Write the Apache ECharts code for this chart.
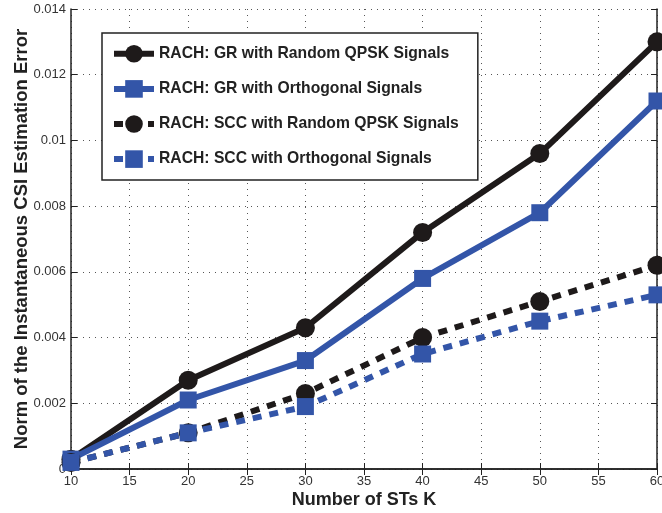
<!DOCTYPE html>
<html>
<head>
<meta charset="utf-8">
<script src="https://cdn.jsdelivr.net/npm/echarts@6/dist/echarts.min.js"></script>
<style>
  html, body { margin: 0; padding: 0; background: #fff; }
  #chart { width: 662px; height: 513px; }
</style>
</head>
<body>
<div id="chart"></div>
<script>
// 横轴：ST 数量 K
const stCounts = [10, 20, 30, 40, 50, 60];

// 各曲线数值
const grQpsk = [0.0003, 0.0027, 0.0043, 0.0072, 0.0096, 0.0130];
const grOrth = [0.0003, 0.0021, 0.0033, 0.0058, 0.0078, 0.0112];
const sccQpsk = [0.0002, 0.0011, 0.0023, 0.0040, 0.0051, 0.0062];
const sccOrth = [0.0002, 0.0011, 0.0019, 0.0035, 0.0045, 0.0053];

const seriesNames = [
  'RACH: GR with Random QPSK Signals',
  'RACH: GR with Orthogonal Signals',
  'RACH: SCC with Random QPSK Signals',
  'RACH: SCC with Orthogonal Signals'
];

const BLACK = '#1e1a1a';
const BLUE = '#3355a8';
const FONT = '"Liberation Sans", Arial, sans-serif';

const chart = echarts.init(document.getElementById('chart'), null, { renderer: 'canvas' });

function pairs(vals) {
  return stCounts.map((k, i) => [k, vals[i]]);
}

function makeSeries(name, vals, color, symbol, dashed) {
  return {
    name: name,
    type: 'line',
    data: pairs(vals),
    symbol: symbol,
    symbolSize: symbol === 'circle' ? 19 : 17,
    itemStyle: { color: color },
    lineStyle: { color: color, width: 6, type: dashed ? [9, 8] : 'solid' },
    z: 3
  };
}

const tickLabelStyle = { color: '#333', fontSize: 13, fontFamily: FONT };
const splitDotted = { show: true, lineStyle: { color: '#555', type: [1, 5], width: 1 } };
const axisLine = { show: true, lineStyle: { color: '#222', width: 1.5 } };
const tickIn = { show: true, inside: true, length: 6, lineStyle: { color: '#222' } };

chart.setOption({
  backgroundColor: '#fff',
  animation: false,
  grid: { left: 71, right: 5, top: 9, bottom: 44, containLabel: false, outerBoundsMode: 'none' },
  legend: {
    orient: 'vertical',
    left: 102,
    top: 33,
    padding: [12, 19, 12, 9],
    itemGap: 17.5,
    itemWidth: 40,
    itemHeight: 22,
    borderColor: '#222',
    borderWidth: 1.5,
    backgroundColor: '#fff',
    lineStyle: { width: 6 },
    textStyle: { color: '#222', fontSize: 15.7, fontWeight: 'bold', fontFamily: FONT },
    data: seriesNames
  },
  xAxis: [{
    type: 'value',
    min: 10, max: 60, interval: 5,
    name: 'Number of STs K',
    nameLocation: 'middle',
    nameGap: 22,
    nameMoveOverlap: false,
    nameTextStyle: { color: '#222', fontSize: 18, fontWeight: 'bold', fontFamily: FONT },
    axisLine: axisLine,
    axisTick: tickIn,
    axisLabel: Object.assign({ margin: 6 }, tickLabelStyle),
    splitLine: splitDotted
  }, {
    type: 'value', position: 'top',
    min: 10, max: 60, interval: 5,
    axisLine: axisLine,
    axisTick: tickIn,
    axisLabel: { show: false },
    splitLine: { show: false }
  }],
  yAxis: [{
    type: 'value',
    min: 0, max: 0.014, interval: 0.002,
    name: 'Norm of the Instantaneous CSI Estimation Error',
    nameLocation: 'middle',
    nameGap: 40,
    nameMoveOverlap: false,
    nameTextStyle: { color: '#222', fontSize: 18.5, fontWeight: 'bold', fontFamily: FONT },
    axisLine: axisLine,
    axisTick: tickIn,
    axisLabel: Object.assign({ margin: 5 }, tickLabelStyle),
    splitLine: splitDotted
  }, {
    type: 'value', position: 'right',
    min: 0, max: 0.014, interval: 0.002,
    axisLine: axisLine,
    axisTick: tickIn,
    axisLabel: { show: false },
    splitLine: { show: false }
  }],
  series: [
    makeSeries(seriesNames[0], grQpsk, BLACK, 'circle', false),
    makeSeries(seriesNames[1], grOrth, BLUE, 'rect', false),
    makeSeries(seriesNames[2], sccQpsk, BLACK, 'circle', true),
    makeSeries(seriesNames[3], sccOrth, BLUE, 'rect', true)
  ]
});
</script>
</body>
</html>
